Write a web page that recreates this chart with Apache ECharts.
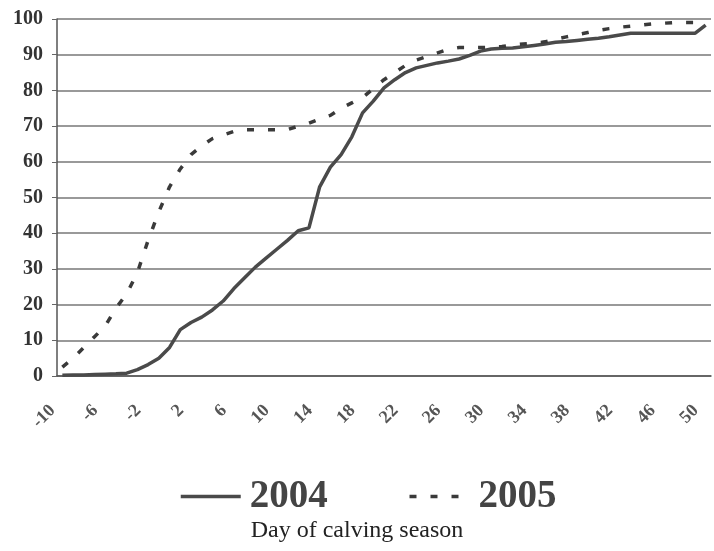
<!DOCTYPE html>
<html>
<head>
<meta charset="utf-8">
<script src="https://cdn.jsdelivr.net/npm/echarts@6/dist/echarts.min.js"></script>
<style>
  html, body { margin: 0; padding: 0; background: #fff; }
  #chart { width: 714px; height: 551px; }
</style>
</head>
<body>
<div id="chart"></div>
<script>
// days -10 .. 50
const days = [];
for (let d = -10; d <= 50; d++) days.push(String(d));

const pct2004 = [
  0.2, 0.3, 0.3, 0.4, 0.5, 0.6, 0.8, 1.8, 3.2, 5,
  8, 13, 15, 16.5, 18.5, 21, 24.5, 27.5, 30.5, 33,
  35.5, 38, 40.7, 41.5, 53, 58.5, 62, 67, 73.7, 77,
  80.7, 83, 85, 86.3, 87, 87.7, 88.2, 88.8, 89.8, 91,
  91.6, 91.8, 91.9, 92.2, 92.6, 93, 93.5, 93.7, 94, 94.3,
  94.6, 95, 95.5, 96, 96, 96, 96, 96, 96, 96,
  98.3
];

const pct2005 = [
  2.5, 5, 8, 11, 14, 19, 23, 29, 38, 46,
  53, 58, 62, 64.5, 66.5, 67.5, 68.5, 69, 69, 69,
  69, 69, 70, 70.8, 72, 73, 75, 76.5, 78, 80.5,
  83, 85, 87, 88.5, 89.5, 90.5, 91.5, 92, 92, 92,
  92, 92.3, 92.7, 93, 93.2, 93.6, 94.3, 95, 95.6, 96.2,
  96.8, 97.3, 97.7, 98, 98.3, 98.6, 98.8, 99, 99, 99,
  99
];

const chart = echarts.init(document.getElementById('chart'));
const serif = '"Liberation Serif", "DejaVu Serif", serif';

chart.setOption({
  backgroundColor: '#ffffff',
  animation: false,
  title: {
    text: 'Day of calving season',
    left: 'center',
    top: 514,
    textStyle: { fontFamily: serif, fontSize: 24, fontWeight: 'normal', color: '#222' }
  },
  legend: {
    top: 472,
    left: 174,
    itemWidth: 60,
    itemHeight: 14,
    itemGap: 80,
    itemStyle: { opacity: 0 },
    lineStyle: { width: 3.5 },
    textStyle: { fontFamily: serif, fontSize: 39, fontWeight: 'bold', color: '#444', padding: [0, 0, 0, 4] },
    data: ['2004', '2005']
  },
  grid: { left: 57, right: 3, top: 19, bottom: 175, outerBoundsMode: 'none' },
  xAxis: {
    type: 'category',
    data: days,
    boundaryGap: true,
    axisLine: { lineStyle: { color: '#555', width: 1.5 } },
    axisTick: { interval: 0, length: 4, inside: false, lineStyle: { color: '#666' } },
    axisLabel: {
      interval: 3,
      rotate: 45,
      margin: 22,
      padding: [0, 14, 0, 0],
      fontFamily: serif,
      fontSize: 18,
      fontWeight: 'bold',
      color: '#555'
    },
    splitLine: { show: false }
  },
  yAxis: {
    type: 'value',
    min: 0,
    max: 100,
    interval: 10,
    axisLine: { show: true, lineStyle: { color: '#555', width: 1.5 } },
    axisTick: { show: true, length: 5, lineStyle: { color: '#666' } },
    axisLabel: {
      fontFamily: serif,
      fontSize: 20,
      fontWeight: 'bold',
      color: '#333',
      margin: 14
    },
    splitLine: { lineStyle: { color: '#777', width: 1.6 } }
  },
  series: [
    {
      name: '2004',
      type: 'line',
      data: pct2004,
      symbol: 'none',
      lineStyle: { color: '#4a4a4a', width: 3.5 },
      itemStyle: { color: '#4a4a4a' }
    },
    {
      name: '2005',
      type: 'line',
      data: pct2005,
      symbol: 'none',
      lineStyle: { color: '#3a3a3a', width: 3.5, type: [7, 14] },
      itemStyle: { color: '#3a3a3a' }
    }
  ]
});
</script>
</body>
</html>
